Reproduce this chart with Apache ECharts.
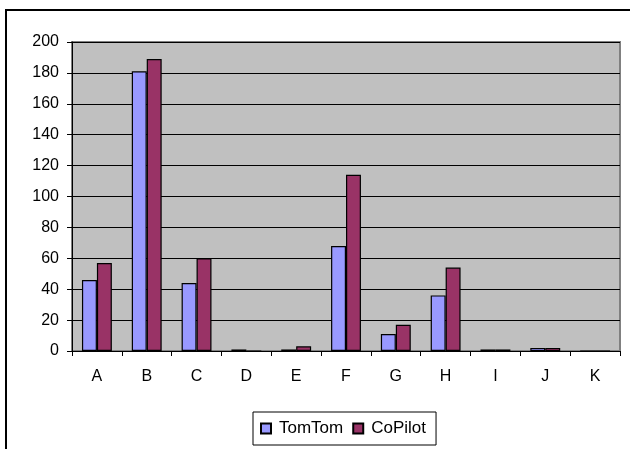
<!DOCTYPE html>
<html>
<head>
<meta charset="utf-8">
<script src="https://cdn.jsdelivr.net/npm/echarts@6/dist/echarts.min.js"></script>
<style>
html,body{margin:0;padding:0;background:#fff;}
#c{width:630px;height:449px;}
</style>
</head>
<body>
<div id="c"></div>
<script>
var categories = ['A','B','C','D','E','F','G','H','I','J','K'];
var tomtom = [46, 181, 44, 1, 1, 68, 11, 36, 1, 2, 0];
var copilot = [57, 189, 60, 0, 3, 114, 17, 54, 1, 2, 0];
var yTicks = {min: 0, max: 200, interval: 20};

var FONT = '"Liberation Sans", Arial, sans-serif';
var chart = echarts.init(document.getElementById('c'), null, {renderer: 'canvas'});
chart.setOption({
  animation: false,
  backgroundColor: '#ffffff',
  graphic: [{
    type: 'rect',
    shape: {x: 6, y: 10, width: 800, height: 600},
    style: {fill: 'none', stroke: '#000', lineWidth: 2},
    z: 100
  }],
  grid: {
    left: 72, right: 10, top: 42, bottom: 98,
    show: true, backgroundColor: '#C0C0C0', borderColor: '#808080', borderWidth: 2
  },
  legend: {
    data: ['TomTom', 'CoPilot'],
    left: 253, top: 412,
    orient: 'horizontal',
    padding: [8, 10, 8, 7],
    itemGap: 9,
    itemWidth: 10, itemHeight: 10,
    borderColor: '#000', borderWidth: 1,
    icon: 'rect',
    textStyle: {fontFamily: FONT, fontSize: 17, color: '#000', padding: [0, 0, 0, 3]}
  },
  xAxis: {
    type: 'category',
    data: categories,
    boundaryGap: true,
    axisLine: {show: true, lineStyle: {color: '#000', width: 1}},
    axisTick: {show: true, alignWithLabel: false, length: 5, lineStyle: {color: '#000'}},
    axisLabel: {fontFamily: FONT, fontSize: 16, color: '#000', margin: 18},
    splitLine: {show: false}
  },
  yAxis: {
    type: 'value',
    min: yTicks.min, max: yTicks.max, interval: yTicks.interval,
    axisLine: {show: true, lineStyle: {color: '#000', width: 1}},
    axisTick: {show: true, length: 5, lineStyle: {color: '#000'}},
    axisLabel: {fontFamily: FONT, fontSize: 16, color: '#000', margin: 13},
    splitLine: {show: true, lineStyle: {color: '#000', width: 1}}
  },
  series: [
    {
      name: 'TomTom', type: 'bar', data: tomtom,
      barGap: '0%', barCategoryGap: '40%',
      itemStyle: {color: '#9999FF', borderColor: '#000', borderWidth: 1.2}
    },
    {
      name: 'CoPilot', type: 'bar', data: copilot,
      barGap: '0%', barCategoryGap: '40%',
      itemStyle: {color: '#993366', borderColor: '#000', borderWidth: 1.2}
    }
  ]
});
</script>
</body>
</html>
